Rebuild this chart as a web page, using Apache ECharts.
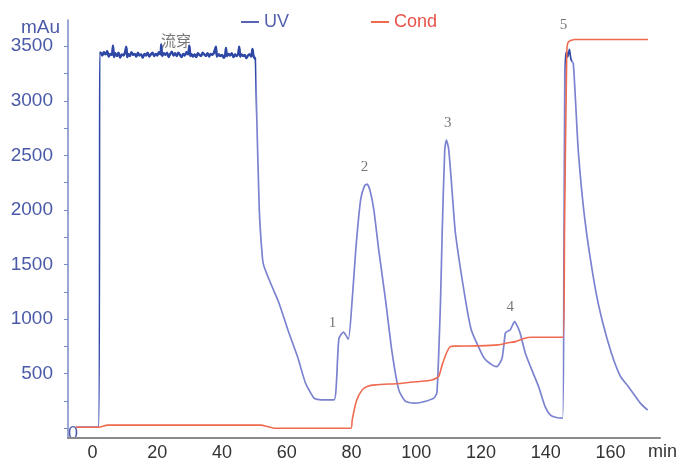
<!DOCTYPE html>
<html><head><meta charset="utf-8">
<script src="https://cdn.jsdelivr.net/npm/echarts@6/dist/echarts.min.js"></script>
<style>html,body{margin:0;padding:0;background:#fff}#c{width:680px;height:464px}</style>
</head><body><div id="c"></div>
<script>
// time (min) tick labels and y tick labels
const xTicks = [0, 20, 40, 60, 80, 100, 120, 140, 160];
const yTicks = [500, 1000, 1500, 2000, 2500, 3000, 3500];
const yMinorTicks = [0, 250, 500, 750, 1000, 1250, 1500, 1750, 2000, 2250, 2500, 2750, 3000, 3250, 3500];

// UV absorbance (mAu) as [time, value]
const uvData = [
  [-5.2, 10], [1.9, 10], [2.2, 3440],
  [2.5, 3440], [3, 3415], [3.5, 3445], [4, 3425], [4.5, 3455], [5, 3405], [5.5, 3430], [6, 3420], [6.3, 3505],
  [6.6, 3400], [7, 3435], [7.5, 3410], [8, 3440], [8.5, 3395], [9, 3425], [9.5, 3415], [10, 3440], [10.4, 3495],
  [10.7, 3400], [11, 3430], [11.5, 3410], [12, 3445], [12.5, 3420], [13, 3430], [13.5, 3405], [14, 3440],
  [14.5, 3415], [15, 3425], [15.5, 3395], [16, 3430], [16.5, 3415], [17, 3440], [17.5, 3405], [18, 3425],
  [18.5, 3440], [19, 3410], [19.5, 3430], [20, 3415], [20.5, 3445], [21, 3425], [21.2, 3515], [21.5, 3410],
  [22, 3435], [22.5, 3420], [23, 3440], [23.5, 3400], [24, 3430], [24.5, 3450], [25, 3415], [25.5, 3435],
  [26, 3410], [26.5, 3440], [27, 3420], [27.5, 3400], [28, 3430], [28.5, 3415], [29, 3445], [29.5, 3425],
  [29.9, 3505], [30.2, 3410], [30.5, 3430], [31, 3405], [31.5, 3425], [32, 3400], [32.5, 3435], [33, 3420],
  [33.5, 3410], [34, 3440], [34.5, 3425], [35, 3410], [35.5, 3435], [36, 3405], [36.5, 3430], [37, 3420],
  [37.5, 3440], [38.1, 3495], [38.4, 3405], [39, 3425], [39.5, 3410], [40, 3420], [40.5, 3395], [41, 3425],
  [41.2, 3485], [41.5, 3410], [42, 3430], [42.5, 3415], [43, 3435], [43.5, 3400], [44, 3425], [44.5, 3410],
  [45, 3430], [45.3, 3495], [45.6, 3405], [46, 3425], [46.5, 3410], [47, 3420], [47.5, 3390], [48, 3415],
  [48.5, 3425], [49, 3405], [49.4, 3475], [49.7, 3410], [50, 3395], [50.3, 3380],
  [50.6, 3000], [51.5, 2000], [52.5, 1550], [53, 1480], [55, 1328], [57.6, 1145], [60.7, 870], [63.3, 656],
  [65.8, 412], [68.4, 275], [70, 262], [74.6, 259], [75.3, 400], [76.1, 820], [77.5, 880], [79, 815],
  [80.2, 1175], [81.3, 1633], [82.8, 2091], [84.0, 2220], [84.8, 2237], [85.7, 2180], [86.9, 1999], [88.4, 1633],
  [90.5, 1175], [92.5, 700], [94.6, 351], [96.5, 250], [99.2, 229], [102, 240], [105.4, 275], [106.4, 330],
  [107.5, 1175], [108, 1786], [108.8, 2550], [109.3, 2640], [110, 2560], [111, 2200], [112.1, 1786], [115.2, 1175],
  [117, 900], [119.3, 740], [121, 640], [123.4, 580], [124.9, 564], [126.5, 640], [127.5, 870], [128, 885],
  [129, 900], [130.4, 976], [131.3, 930], [132.1, 870], [133.7, 687], [135.7, 534], [137.8, 381], [139.8, 198],
  [141.4, 122], [143, 100], [145.2, 92], [145.6, 1500], [145.9, 3300], [146.2, 3420], [146.5, 3449], [146.8, 3400],
  [147.3, 3470], [147.8, 3380], [148.5, 3342], [149.2, 3000], [150.1, 2521], [152.1, 1907], [155.2, 1297],
  [157.5, 980], [160.3, 687], [163, 480], [165.5, 381], [167.5, 300], [169.5, 220], [171.5, 165]
];

// Conductivity trace (plotted on the same scale) as [time, value]
const condData = [
  [-5.2, 8], [1.8, 8], [4.6, 28], [52, 28], [54, 15], [56, 0], [79.8, 0], [80.2, 76], [81.5, 250],
  [83.3, 351], [85, 385], [87.4, 397], [95, 410], [100, 425], [104.9, 442], [106.9, 473], [108, 580],
  [109.5, 700], [110.5, 747], [112, 752], [119.3, 754], [125.4, 763], [128, 780], [130.6, 793], [133, 820],
  [135.7, 833], [145.4, 833], [145.8, 1800], [146.5, 3450], [147, 3540], [149, 3562], [171.6, 3562]
];

// peak annotations [time, value, text]
const notes = [
  [25.8, 3540, '流穿'], [74.1, 961, '1'], [84.0, 2396, '2'], [109.7, 2793, '3'], [129.0, 1114, '4'], [145.5, 3693, '5']
];

const UV_COLOR = '#7b83d0';
const UV_DARK = '#2f48a6';
const COND_COLOR = '#ef6a4f';
const AXIS_BLUE = '#4a5aa8';
const FONT = 'Liberation Sans, Arial, sans-serif';

// flow-through plateau portion of the UV trace (same points, drawn heavier)
const flowThrough = uvData.filter(d => d[0] >= 2.2 && d[0] <= 50.3);

const chart = echarts.init(document.getElementById('c'));
const option = {
  animation: false,
  backgroundColor: '#fff',
  grid: { left: 68, right: 18, top: 20, bottom: 26, containLabel: false },
  legend: {
    top: 8, left: 236, itemGap: 82, itemWidth: 18, itemHeight: 2, icon: 'rect',
    textStyle: { fontSize: 18, fontFamily: FONT },
    data: [
      { name: 'UV', itemStyle: { color: '#5a64b4' }, textStyle: { color: '#5560b0' } },
      { name: 'Cond', itemStyle: { color: COND_COLOR }, textStyle: { color: '#e8534a' } }
    ]
  },
  xAxis: {
    type: 'value', min: -7.6, max: 175.3,
    name: 'min', nameLocation: 'end', nameGap: -12,
    nameTextStyle: { fontSize: 18, color: '#333', fontFamily: FONT, align: 'left', verticalAlign: 'top', padding: [5, 0, 0, 0] },
    axisLine: { onZero: false, lineStyle: { color: '#8a8a8a', width: 2 } },
    axisTick: { show: false },
    splitLine: { show: false },
    axisLabel: { customValues: xTicks, fontSize: 18, color: '#333', margin: 6, fontFamily: FONT }
  },
  yAxis: {
    type: 'value', min: -90, max: 3740,
    name: 'mAu', nameLocation: 'end', nameGap: -10,
    nameTextStyle: { fontSize: 19, color: AXIS_BLUE, align: 'right', verticalAlign: 'middle', padding: [0, 8, 0, 0], fontFamily: FONT },
    axisLine: { show: true, onZero: false, lineStyle: { color: '#7a88c8', width: 1.5 } },
    axisTick: { show: true, customValues: yMinorTicks, length: 4, lineStyle: { color: '#7a88c8' } },
    splitLine: { show: false },
    axisLabel: { customValues: yTicks, fontSize: 19, color: AXIS_BLUE, margin: 15, fontFamily: FONT, formatter: v => String(v) }
  },
  visualMap: {
    show: false, type: 'piecewise', seriesIndex: 0, dimension: 0,
    pieces: [
      { lt: 2.1, color: UV_COLOR },
      { gte: 2.1, lt: 50.5, color: UV_DARK },
      { gte: 50.5, lt: 145.9, color: UV_COLOR },
      { gte: 145.9, lt: 148.2, color: UV_DARK },
      { gte: 148.2, color: UV_COLOR }
    ]
  },
  series: [
    { name: 'UV', type: 'line', data: uvData, showSymbol: false, symbol: 'none', color: UV_COLOR,
      smooth: 0.2, lineStyle: { width: 1.7 }, z: 2 },
    { name: 'UVflow', type: 'line', data: flowThrough, showSymbol: false, symbol: 'none', silent: true,
      smooth: 0.2, lineStyle: { width: 2.4, color: UV_DARK }, z: 2 },
    { name: 'Cond', type: 'line', data: condData, showSymbol: false, symbol: 'none', color: COND_COLOR,
      smooth: 0.2, lineStyle: { width: 1.6, color: COND_COLOR }, z: 3 },
    { name: 'notes', type: 'scatter', symbolSize: 0, silent: true, z: 5,
      data: notes.map(n => ({ value: [n[0], n[1]], name: n[2] })),
      label: { show: true, position: 'inside', formatter: p => p.name, color: '#555', fontSize: 15,
        fontFamily: 'Liberation Serif, DejaVu Serif, Noto Sans CJK SC, serif' } }
  ]
};
chart.setOption(option);
const p0 = chart.convertToPixel({ gridIndex: 0 }, [-7.6, 0]);
chart.setOption({
  graphic: [{ type: 'text', x: p0[0], y: p0[1] + 6,
    style: { text: '0', fill: AXIS_BLUE, fontSize: 18, fontFamily: FONT, align: 'left', verticalAlign: 'middle' } }]
});
</script></body></html>
